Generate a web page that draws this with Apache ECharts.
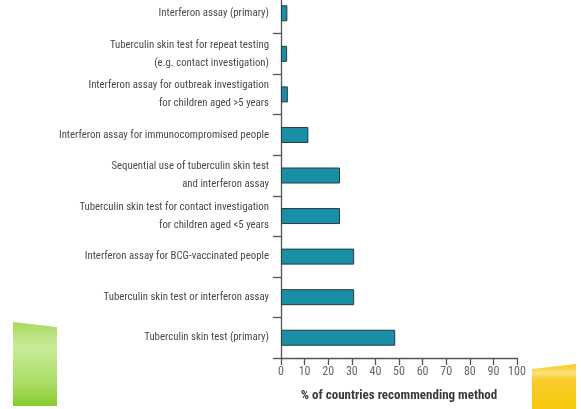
<!DOCTYPE html>
<html>
<head>
<meta charset="utf-8">
<script src="https://cdn.jsdelivr.net/npm/echarts@6/dist/echarts.min.js"></script>
<style>
html,body{margin:0;padding:0;background:#fff;overflow:hidden;width:581px;height:409px;}
#c{position:absolute;left:0;top:-7px;width:581px;height:416px;}
</style>
</head>
<body>
<div id="c"></div>
<script>
// Categories listed bottom-to-top (ECharts category axis starts at the bottom)
var categories = [
  "Tuberculin skin test (primary)",
  "Tuberculin skin test or interferon assay",
  "Interferon assay for BCG-vaccinated people",
  "Tuberculin skin test for contact investigation\nfor children aged <5 years",
  "Sequential use of tuberculin skin test\nand interferon assay",
  "Interferon assay for immunocompromised people",
  "Interferon assay for outbreak investigation\nfor children aged >5 years",
  "Tuberculin skin test for repeat testing\n(e.g. contact investigation)",
  "Interferon assay (primary)"
];
var values = [48.4, 31, 31, 25, 25, 11.6, 2.9, 2.6, 2.7];
var xTicks = [0, 10, 20, 30, 40, 50, 60, 70, 80, 90, 100];
var xTitle = "% of countries recommending method";

var FONT = "'Roboto Condensed', 'DejaVu Sans Condensed', sans-serif";
var OFF = 7; // the chart canvas starts 7px above the page
var chart = echarts.init(document.getElementById('c'), null, {renderer: 'canvas'});
chart.setOption({
  animation: false,
  backgroundColor: '#ffffff',
  grid: {left: 281, right: 64, top: 0, bottom: 51, containLabel: false},
  xAxis: {
    type: 'value',
    min: xTicks[0], max: xTicks[xTicks.length - 1], interval: 10,
    name: xTitle,
    nameLocation: 'middle',
    nameGap: 31,
    nameTextStyle: {fontFamily: FONT, fontSize: 13, fontWeight: 'bold', color: '#3a3a3a'},
    axisLine: {show: true, lineStyle: {color: '#555', width: 1.3}},
    axisTick: {show: true, length: 7, inside: false, lineStyle: {color: '#555', width: 1.3}},
    axisLabel: {fontFamily: FONT, fontSize: 12, color: '#666', margin: 8},
    splitLine: {show: false}
  },
  yAxis: {
    type: 'category',
    data: categories,
    axisLine: {show: true, lineStyle: {color: '#555', width: 1.3}},
    axisTick: {show: true, length: 8, alignWithLabel: false, lineStyle: {color: '#555', width: 1.3}},
    axisLabel: {fontFamily: FONT, fontSize: 10.8, color: '#4a4a4a', margin: 12, lineHeight: 18, align: 'right'},
    splitLine: {show: false}
  },
  series: [{
    type: 'bar',
    data: values,
    barWidth: 16,
    itemStyle: {color: '#188ea7', borderColor: '#2a3a40', borderWidth: 1}
  }],
  graphic: [
    {
      type: 'polygon',
      shape: {points: [[13, 322 + OFF], [57, 327 + OFF], [57, 406 + OFF], [13, 406 + OFF]]},
      style: {
        fill: {
          type: 'linear', x: 0, y: 0, x2: 0, y2: 1,
          colorStops: [
            {offset: 0, color: '#a6db5a'},
            {offset: 0.12, color: '#b6e27a'},
            {offset: 0.3, color: '#c9eb98'},
            {offset: 0.7, color: '#aede6a'},
            {offset: 1, color: '#88cc2e'}
          ]
        }
      }
    },
    {
      type: 'polygon',
      shape: {points: [[532, 369 + OFF], [576, 364 + OFF], [576, 409 + OFF], [532, 409 + OFF]]},
      style: {
        fill: {
          type: 'linear', x: 0, y: 0, x2: 0, y2: 1,
          colorStops: [
            {offset: 0, color: '#f7c81a'},
            {offset: 0.2, color: '#fbe07a'},
            {offset: 0.35, color: '#f9cd2a'},
            {offset: 1, color: '#f8c70f'}
          ]
        }
      }
    }
  ]
});
</script>
</body>
</html>
